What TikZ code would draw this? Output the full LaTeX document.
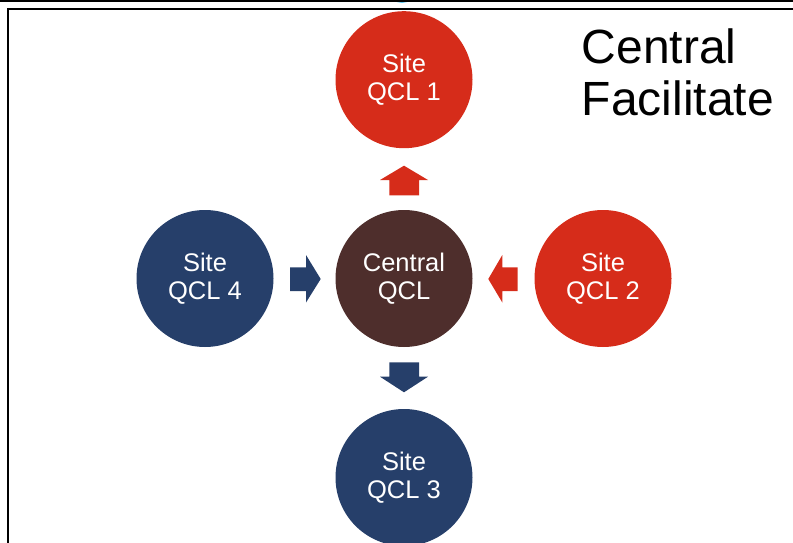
\documentclass[tikz,border=0pt]{standalone}
\usepackage{fontspec}
\setmainfont{Liberation Sans}
\definecolor{qred}{RGB}{214,44,26}
\definecolor{qblue}{RGB}{38,63,106}
\definecolor{qbrown}{RGB}{78,46,44}
\definecolor{qlight}{RGB}{96,200,240}
\begin{document}
\begin{tikzpicture}[x=1pt,y=-1pt,
  qcircle/.style={circle,minimum size=137pt,inner sep=0pt,text=white,align=center,
    font=\fontsize{25.5}{28}\selectfont},
  redarrow/.style={fill=qred},
  bluearrow/.style={fill=qblue},
  frameline/.style={line width=2pt,black}]
\useasboundingbox (0,0) rectangle (793,543);
\begin{scope}
\clip (0,0) rectangle (793,543);
\fill[qlight] (402,-9) ellipse [x radius=13pt, y radius=12pt];
\end{scope}
% frame lines
\draw[frameline] (0,1.5) -- (793,1.5);
\draw[frameline] (7.5,543) -- (7.5,9) -- (793,9);
% circles
\node[qcircle,fill=qbrown] (c) at (404,278.5) {Central\\QCL};
\node[qcircle,fill=qred] (s1) at (404,79.7) {Site\\QCL 1};
\node[qcircle,fill=qred] (s2) at (603,278.5) {Site\\QCL 2};
\node[qcircle,fill=qblue] (s3) at (404,477.5) {Site\\QCL 3};
\node[qcircle,fill=qblue] (s4) at (205,278.5) {Site\\QCL 4};
% block arrows
\fill[redarrow] (404,165.7) -- (428,180) -- (419,180) -- (419,195.3) -- (389.3,195.3) -- (389.3,180) -- (380,180) -- cycle;
\fill[bluearrow] (404,392.3) -- (428,376.7) -- (419,376.7) -- (419,362.3) -- (389.3,362.3) -- (389.3,376.7) -- (380,376.7) -- cycle;
\fill[bluearrow] (320.7,279) -- (306,255) -- (306,267.3) -- (290,267.3) -- (290,291) -- (306,291) -- (306,302.5) -- cycle;
\fill[redarrow] (488.3,279) -- (502.3,255) -- (502.3,267.3) -- (517.7,267.3) -- (517.7,291) -- (502.3,291) -- (502.3,302.5) -- cycle;
% title
\node[anchor=north west,inner sep=0pt,align=left,font=\fontsize{48}{52}\selectfont] (title) at (581.5,29) {Central\\Facilitate};
\end{tikzpicture}
\end{document}
